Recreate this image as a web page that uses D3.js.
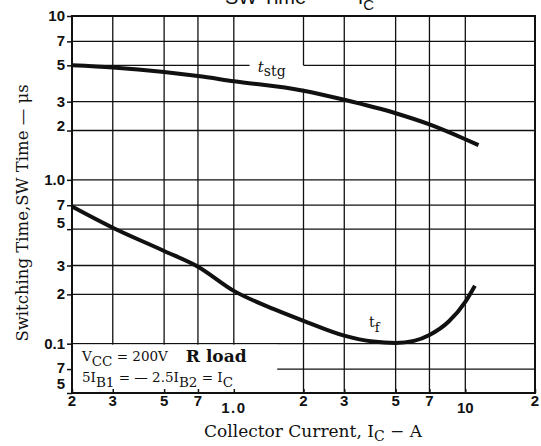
<!DOCTYPE html>
<html><head><meta charset="utf-8">
<script src="https://cdn.jsdelivr.net/npm/d3@7"></script>
<style>body{margin:0;background:#fff}svg{display:block}</style>
</head><body><svg id="c" width="541" height="446"></svg>
<script>
// ---- data ----
const xTickValues = [0.2, 0.3, 0.5, 0.7, 1, 2, 3, 5, 7, 10, 20];
const xTickLabels = ["2", "3", "5", "7", "1.0", "2", "3", "5", "7", "10", "2"];
const yTickValues = [0.05, 0.07, 0.1, 0.2, 0.3, 0.5, 0.7, 1, 2, 3, 5, 7, 10];
const yTickLabels = ["5", "7", "0.1", "2", "3", "5", "7", "1.0", "2", "3", "5", "7", "10"];
const xGrid = [0.3, 0.5, 0.7, 1, 2, 3, 5, 7, 10];
const yGrid = [0.07, 0.1, 0.2, 0.3, 0.5, 0.7, 1, 2, 3, 5, 7];
// t_stg (us) vs Ic (A)
const tstgI = [0.2, 0.3, 0.5, 0.7, 1, 2, 3, 5, 7, 10, 11.4];
const tstgT = [5.0, 4.85, 4.55, 4.3, 4.0, 3.5, 3.08, 2.55, 2.18, 1.77, 1.63];
// t_f (us) vs Ic (A)
const tfI = [0.2, 0.3, 0.5, 0.7, 1, 1.5, 2, 3, 4, 5, 6, 7, 8.5, 10, 11];
const tfT = [0.687, 0.51, 0.368, 0.295, 0.21, 0.162, 0.138, 0.112, 0.103, 0.101, 0.104, 0.113, 0.137, 0.18, 0.226];

const svg = d3.select("#c");
const x = d3.scaleLog().domain([0.2, 20]).range([72, 535]);
const y = d3.scaleLog().domain([0.05, 10]).range([393, 16]);
const ink = "#111";
const serif = "'DejaVu Serif', serif";
const sans = "'Liberation Sans', Arial, sans-serif";

// gridlines (with the gaps seen in the original around labels)
const g = svg.append("g").attr("stroke", ink).attr("stroke-width", 1.3);
const segV = (v, a, b) => g.append("line").attr("x1", x(v)).attr("x2", x(v)).attr("y1", y(a)).attr("y2", y(b));
const segH = (v, a, b) => g.append("line").attr("y1", y(v)).attr("y2", y(v)).attr("x1", x(a)).attr("x2", x(b));
xGrid.forEach(v => {
  if (v === 2) { segV(v, 10, 5); segV(v, 3.6, 0.05); }
  else segV(v, 10, 0.05);
});
yGrid.forEach(v => {
  if (v === 5) { segH(v, 0.2, 1.17); segH(v, 2, 20); }
  else segH(v, 0.2, 20);
});
// condition box (white, covers grid)
svg.append("rect").attr("x", x(0.2)).attr("y", y(0.1) + 1)
  .attr("width", x(1.54) - x(0.2)).attr("height", y(0.05) - y(0.1) - 1).attr("fill", "#fff");

// frame
svg.append("rect").attr("x", x(0.2)).attr("y", y(10)).attr("width", x(20) - x(0.2))
  .attr("height", y(0.05) - y(10)).attr("fill", "none").attr("stroke", ink).attr("stroke-width", 2);

// axes with ticks
const yAxis = d3.axisLeft(y).tickValues(yTickValues).tickSize(5).tickFormat("");
const ya = svg.append("g").attr("transform", `translate(${x(0.2)},0)`).call(yAxis);
ya.select(".domain").remove();
ya.selectAll("line").attr("stroke", ink).attr("stroke-width", 1.5);
const xAxis = d3.axisTop(x).tickValues(xTickValues).tickSize(4).tickFormat("");
const xa = svg.append("g").attr("transform", `translate(0,${y(0.05)})`).call(xAxis);
xa.select(".domain").remove();
xa.selectAll("line").attr("stroke", ink).attr("stroke-width", 1.5);

// y tick labels
const yNudge = {0: -9, 1: -1, 5: -6, 8: -5};
svg.append("g").selectAll("text").data(yTickValues).join("text")
  .attr("x", x(0.2) - 7).attr("y", (d, i) => y(d) + 5 + (yNudge[i] || 0))
  .attr("text-anchor", "end").attr("font-family", sans).attr("font-weight", "bold")
  .attr("font-size", 15).attr("fill", ink).text((d, i) => yTickLabels[i]);
// x tick labels
svg.append("g").selectAll("text").data(xTickValues).join("text")
  .attr("x", d => x(d)).attr("y", (d, i) => xTickLabels[i].length > 1 ? 413 : 406)
  .attr("text-anchor", "middle").attr("font-family", sans).attr("font-weight", "bold")
  .attr("font-size", 15).attr("letter-spacing", (d, i) => xTickLabels[i] === "1.0" ? 1.5 : 0)
  .attr("fill", ink).text((d, i) => xTickLabels[i]);

// curves
const line = d3.line().x(d => x(d[0])).y(d => y(d[1])).curve(d3.curveMonotoneX);
svg.append("path").attr("d", line(d3.zip(tstgI, tstgT))).attr("fill", "none")
  .attr("stroke", ink).attr("stroke-width", 4).attr("stroke-linecap", "butt");
svg.append("path").attr("d", line(d3.zip(tfI, tfT))).attr("fill", "none")
  .attr("stroke", ink).attr("stroke-width", 4).attr("stroke-linecap", "butt");

// curve labels
const l1 = svg.append("text").attr("x", x(1.27)).attr("y", y(4.55)).attr("font-family", serif)
  .attr("font-size", 15).attr("fill", ink);
l1.append("tspan").attr("font-style", "italic").text("t");
l1.append("tspan").attr("dy", 4).attr("font-size", 14).text("stg");
const l2 = svg.append("text").attr("x", x(3.84)).attr("y", y(0.126)).attr("font-family", serif)
  .attr("font-size", 14).attr("fill", ink);
l2.append("tspan").text("t");
l2.append("tspan").attr("dy", 5).attr("font-size", 13).text("f");

// conditions text
const bx = x(0.2) + 10;
const c1 = svg.append("text").attr("x", bx).attr("y", 361).attr("font-family", serif)
  .attr("font-size", 13.5).attr("fill", ink);
c1.append("tspan").text("V");
c1.append("tspan").attr("dy", 5).text("CC");
c1.append("tspan").attr("dy", -5).text(" = 200V");
c1.append("tspan").attr("dx", 18).attr("dy", 1).attr("font-weight", "bold").attr("font-size", 17).text("R load");
const c2 = svg.append("text").attr("x", bx).attr("y", 382).attr("font-family", serif)
  .attr("font-size", 13.5).attr("fill", ink);
c2.append("tspan").text("5I");
c2.append("tspan").attr("dy", 5).text("B1");
c2.append("tspan").attr("dy", -5).text(" = — 2.5I");
c2.append("tspan").attr("dy", 5).text("B2");
c2.append("tspan").attr("dy", -5).text(" = I");
c2.append("tspan").attr("dy", 5).text("C");

// axis titles
const xt = svg.append("text").attr("x", 313).attr("y", 437).attr("text-anchor", "middle")
  .attr("font-family", serif).attr("font-size", 17).attr("fill", ink);
xt.append("tspan").text("Collector Current, I");
xt.append("tspan").attr("dy", 4).attr("font-size", 14).text("C");
xt.append("tspan").attr("dy", -4).text(" − A");
svg.append("text").attr("transform", "translate(28,213) rotate(-90)").attr("text-anchor", "middle")
  .attr("font-family", serif).attr("font-size", 16.5).attr("fill", ink)
  .text("Switching Time,SW Time — μs");

// clipped title
const tt = svg.append("text").attr("x", 225).attr("y", 4).attr("font-family", sans)
  .attr("font-size", 20).attr("fill", ink);
tt.append("tspan").text("SW  Time —");
tt.append("tspan").attr("dx", 26).text("I");
tt.append("tspan").attr("dy", 6).attr("font-size", 15).text("C");
</script></body></html>
